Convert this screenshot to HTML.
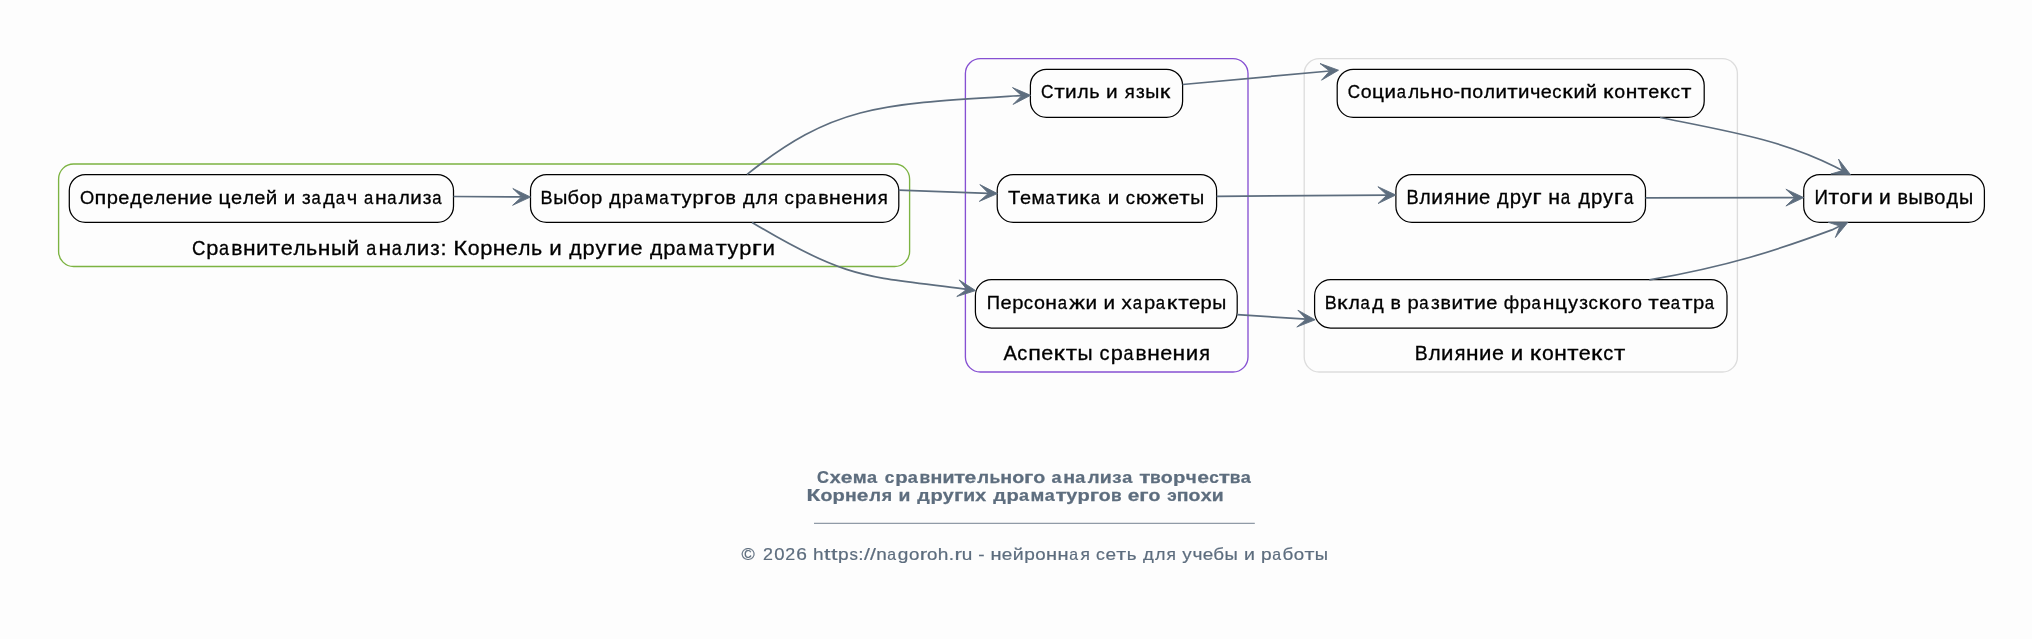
<!DOCTYPE html>
<html><head><meta charset="utf-8"><style>
html,body{margin:0;padding:0;background:#fdfdfd;}
body{width:2032px;height:639px;overflow:hidden;}
svg{display:block;will-change:transform;}
text{font-family:"Liberation Sans",sans-serif;}
</style></head><body>
<svg width="2032" height="639" viewBox="0 0 2032 639">
<rect x="0" y="0" width="2032" height="639" fill="#fdfdfd"/>
<rect x="58.6" y="164.0" width="851.0" height="102.5" rx="15" ry="15" fill="none" stroke="#7cb342" stroke-width="1.35"/>
<rect x="965.4" y="58.6" width="282.6" height="313.4" rx="15" ry="15" fill="none" stroke="#8650d2" stroke-width="1.35"/>
<rect x="1304.2" y="58.6" width="433.2" height="313.4" rx="15" ry="15" fill="none" stroke="#dddddd" stroke-width="1.35"/>
<g font-size="20.66" font-weight="normal" fill="#000" stroke="#000" stroke-width="0.3"><text transform="translate(198.89,254.7) scale(0.901,1)" x="-7.59">С</text><text transform="translate(212.60,254.7) scale(1.056,1)" x="-5.98">р</text><text transform="translate(224.44,254.7) scale(0.873,1)" x="-6.18">а</text><text transform="translate(237.12,254.7) scale(1.020,1)" x="-5.75">в</text><text transform="translate(249.27,254.7) scale(1.108,1)" x="-5.70">н</text><text transform="translate(262.34,254.7) scale(1.083,1)" x="-5.77">и</text><text transform="translate(274.70,254.7) scale(1.200,1)" x="-4.73">т</text><text transform="translate(286.73,254.7) scale(1.049,1)" x="-5.72">е</text><text transform="translate(298.83,254.7) scale(0.990,1)" x="-5.37">л</text><text transform="translate(311.93,254.7) scale(1.039,1)" x="-5.67">ь</text><text transform="translate(324.07,254.7) scale(1.108,1)" x="-5.70">н</text><text transform="translate(338.57,254.7) scale(1.021,1)" x="-7.42">ы</text><text transform="translate(352.98,254.7) scale(1.083,1)" x="-5.77">й</text><text transform="translate(371.71,254.7) scale(0.873,1)" x="-6.18">а</text><text transform="translate(384.72,254.7) scale(1.108,1)" x="-5.70">н</text><text transform="translate(397.11,254.7) scale(0.873,1)" x="-6.18">а</text><text transform="translate(409.51,254.7) scale(0.990,1)" x="-5.37">л</text><text transform="translate(422.90,254.7) scale(1.083,1)" x="-5.77">и</text><text transform="translate(434.81,254.7) scale(0.997,1)" x="-4.59">з</text><text transform="translate(443.46,254.7) scale(1.051,1)" x="-2.87">:</text><text transform="translate(461.12,254.7) scale(1.163,1)" x="-6.80">К</text><text transform="translate(473.59,254.7) scale(1.032,1)" x="-5.74">о</text><text transform="translate(486.45,254.7) scale(1.056,1)" x="-5.98">р</text><text transform="translate(499.00,254.7) scale(1.108,1)" x="-5.70">н</text><text transform="translate(511.75,254.7) scale(1.049,1)" x="-5.72">е</text><text transform="translate(523.85,254.7) scale(0.990,1)" x="-5.37">л</text><text transform="translate(536.95,254.7) scale(1.039,1)" x="-5.67">ь</text><text transform="translate(555.43,254.7) scale(1.083,1)" x="-5.77">и</text><text transform="translate(575.25,254.7) scale(1.024,1)" x="-5.95">д</text><text transform="translate(588.91,254.7) scale(1.056,1)" x="-5.98">р</text><text transform="translate(600.85,254.7) scale(1.043,1)" x="-5.17">у</text><text transform="translate(612.47,254.7) scale(1.350,1)" x="-4.18">г</text><text transform="translate(623.84,254.7) scale(1.083,1)" x="-5.77">и</text><text transform="translate(636.54,254.7) scale(1.049,1)" x="-5.72">е</text><text transform="translate(656.00,254.7) scale(1.024,1)" x="-5.95">д</text><text transform="translate(669.66,254.7) scale(1.056,1)" x="-5.98">р</text><text transform="translate(681.50,254.7) scale(0.873,1)" x="-6.18">а</text><text transform="translate(695.52,254.7) scale(1.012,1)" x="-7.11">м</text><text transform="translate(708.92,254.7) scale(0.873,1)" x="-6.18">а</text><text transform="translate(721.21,254.7) scale(1.200,1)" x="-4.73">т</text><text transform="translate(732.99,254.7) scale(1.043,1)" x="-5.17">у</text><text transform="translate(745.65,254.7) scale(1.056,1)" x="-5.98">р</text><text transform="translate(757.34,254.7) scale(1.350,1)" x="-4.18">г</text><text transform="translate(768.70,254.7) scale(1.083,1)" x="-5.77">и</text></g>
<g font-size="20.58" font-weight="normal" fill="#000" stroke="#000" stroke-width="0.3"><text transform="translate(1010.27,360.0) scale(0.978,1)" x="-6.86">А</text><text transform="translate(1022.54,360.0) scale(0.974,1)" x="-5.31">с</text><text transform="translate(1034.63,360.0) scale(1.138,1)" x="-5.57">п</text><text transform="translate(1047.33,360.0) scale(1.049,1)" x="-5.70">е</text><text transform="translate(1060.06,360.0) scale(1.243,1)" x="-5.25">к</text><text transform="translate(1071.34,360.0) scale(1.200,1)" x="-4.71">т</text><text transform="translate(1085.07,360.0) scale(1.021,1)" x="-7.40">ы</text><text transform="translate(1104.71,360.0) scale(0.974,1)" x="-5.31">с</text><text transform="translate(1116.97,360.0) scale(1.056,1)" x="-5.95">р</text><text transform="translate(1128.77,360.0) scale(0.873,1)" x="-6.16">а</text><text transform="translate(1141.40,360.0) scale(1.020,1)" x="-5.73">в</text><text transform="translate(1153.51,360.0) scale(1.108,1)" x="-5.68">н</text><text transform="translate(1166.20,360.0) scale(1.049,1)" x="-5.70">е</text><text transform="translate(1178.86,360.0) scale(1.108,1)" x="-5.68">н</text><text transform="translate(1191.89,360.0) scale(1.083,1)" x="-5.75">и</text><text transform="translate(1204.10,360.0) scale(0.963,1)" x="-4.94">я</text></g>
<g font-size="20.55" font-weight="normal" fill="#000" stroke="#000" stroke-width="0.3"><text transform="translate(1421.46,359.7) scale(0.943,1)" x="-7.15">В</text><text transform="translate(1433.94,359.7) scale(0.990,1)" x="-5.34">л</text><text transform="translate(1447.26,359.7) scale(1.083,1)" x="-5.74">и</text><text transform="translate(1459.46,359.7) scale(0.963,1)" x="-4.94">я</text><text transform="translate(1472.26,359.7) scale(1.108,1)" x="-5.67">н</text><text transform="translate(1485.26,359.7) scale(1.083,1)" x="-5.74">и</text><text transform="translate(1497.90,359.7) scale(1.049,1)" x="-5.69">е</text><text transform="translate(1516.84,359.7) scale(1.083,1)" x="-5.74">и</text><text transform="translate(1536.26,359.7) scale(1.243,1)" x="-5.24">к</text><text transform="translate(1547.82,359.7) scale(1.032,1)" x="-5.71">о</text><text transform="translate(1560.44,359.7) scale(1.108,1)" x="-5.67">н</text><text transform="translate(1572.77,359.7) scale(1.200,1)" x="-4.71">т</text><text transform="translate(1584.73,359.7) scale(1.049,1)" x="-5.69">е</text><text transform="translate(1597.45,359.7) scale(1.243,1)" x="-5.24">к</text><text transform="translate(1608.31,359.7) scale(0.974,1)" x="-5.30">с</text><text transform="translate(1619.67,359.7) scale(1.200,1)" x="-4.71">т</text></g>
<rect x="69.3" y="174.5" width="384.2" height="47.8" rx="16" ry="16" fill="#fdfdfd" stroke="#000" stroke-width="1.25"/>
<g font-size="19.06" font-weight="normal" fill="#000" stroke="#000" stroke-width="0.3"><text transform="translate(87.04,203.9) scale(0.960,1)" x="-7.41">О</text><text transform="translate(100.38,203.9) scale(1.138,1)" x="-5.16">п</text><text transform="translate(112.63,203.9) scale(1.056,1)" x="-5.51">р</text><text transform="translate(123.88,203.9) scale(1.049,1)" x="-5.28">е</text><text transform="translate(135.95,203.9) scale(1.024,1)" x="-5.49">д</text><text transform="translate(148.06,203.9) scale(1.049,1)" x="-5.28">е</text><text transform="translate(159.22,203.9) scale(0.990,1)" x="-4.95">л</text><text transform="translate(171.27,203.9) scale(1.049,1)" x="-5.28">е</text><text transform="translate(182.99,203.9) scale(1.108,1)" x="-5.26">н</text><text transform="translate(195.06,203.9) scale(1.083,1)" x="-5.32">и</text><text transform="translate(206.78,203.9) scale(1.049,1)" x="-5.28">е</text><text transform="translate(225.05,203.9) scale(1.099,1)" x="-5.90">ц</text><text transform="translate(236.64,203.9) scale(1.049,1)" x="-5.28">е</text><text transform="translate(247.81,203.9) scale(0.990,1)" x="-4.95">л</text><text transform="translate(259.85,203.9) scale(1.049,1)" x="-5.28">е</text><text transform="translate(271.54,203.9) scale(1.083,1)" x="-5.32">й</text><text transform="translate(289.45,203.9) scale(1.083,1)" x="-5.32">и</text><text transform="translate(306.32,203.9) scale(0.997,1)" x="-4.24">з</text><text transform="translate(316.57,203.9) scale(0.873,1)" x="-5.70">а</text><text transform="translate(328.92,203.9) scale(1.024,1)" x="-5.49">д</text><text transform="translate(340.70,203.9) scale(0.873,1)" x="-5.70">а</text><text transform="translate(351.96,203.9) scale(1.058,1)" x="-4.87">ч</text><text transform="translate(368.86,203.9) scale(0.873,1)" x="-5.70">а</text><text transform="translate(380.86,203.9) scale(1.108,1)" x="-5.26">н</text><text transform="translate(392.29,203.9) scale(0.873,1)" x="-5.70">а</text><text transform="translate(403.74,203.9) scale(0.990,1)" x="-4.95">л</text><text transform="translate(416.09,203.9) scale(1.083,1)" x="-5.32">и</text><text transform="translate(427.08,203.9) scale(0.997,1)" x="-4.24">з</text><text transform="translate(437.33,203.9) scale(0.873,1)" x="-5.70">а</text></g>
<rect x="530.5" y="174.5" width="368.3" height="47.8" rx="16" ry="16" fill="#fdfdfd" stroke="#000" stroke-width="1.25"/>
<g font-size="19.24" font-weight="normal" fill="#000" stroke="#000" stroke-width="0.3"><text transform="translate(546.83,203.9) scale(0.943,1)" x="-6.70">В</text><text transform="translate(560.37,203.9) scale(1.021,1)" x="-6.91">ы</text><text transform="translate(573.49,203.9) scale(1.043,1)" x="-5.67">б</text><text transform="translate(584.96,203.9) scale(1.032,1)" x="-5.35">о</text><text transform="translate(596.94,203.9) scale(1.056,1)" x="-5.57">р</text><text transform="translate(614.92,203.9) scale(1.024,1)" x="-5.54">д</text><text transform="translate(627.65,203.9) scale(1.056,1)" x="-5.57">р</text><text transform="translate(638.67,203.9) scale(0.873,1)" x="-5.76">а</text><text transform="translate(651.73,203.9) scale(1.012,1)" x="-6.62">м</text><text transform="translate(664.21,203.9) scale(0.873,1)" x="-5.76">а</text><text transform="translate(675.66,203.9) scale(1.200,1)" x="-4.41">т</text><text transform="translate(686.63,203.9) scale(1.043,1)" x="-4.81">у</text><text transform="translate(698.42,203.9) scale(1.056,1)" x="-5.57">р</text><text transform="translate(709.31,203.9) scale(1.350,1)" x="-3.89">г</text><text transform="translate(719.54,203.9) scale(1.032,1)" x="-5.35">о</text><text transform="translate(731.05,203.9) scale(1.020,1)" x="-5.36">в</text><text transform="translate(748.65,203.9) scale(1.024,1)" x="-5.54">д</text><text transform="translate(760.65,203.9) scale(0.990,1)" x="-5.00">л</text><text transform="translate(772.40,203.9) scale(0.963,1)" x="-4.62">я</text><text transform="translate(789.29,203.9) scale(0.974,1)" x="-4.96">с</text><text transform="translate(800.75,203.9) scale(1.056,1)" x="-5.57">р</text><text transform="translate(811.78,203.9) scale(0.873,1)" x="-5.76">а</text><text transform="translate(823.59,203.9) scale(1.020,1)" x="-5.36">в</text><text transform="translate(834.90,203.9) scale(1.108,1)" x="-5.31">н</text><text transform="translate(846.77,203.9) scale(1.049,1)" x="-5.33">е</text><text transform="translate(858.61,203.9) scale(1.108,1)" x="-5.31">н</text><text transform="translate(870.78,203.9) scale(1.083,1)" x="-5.37">и</text><text transform="translate(882.20,203.9) scale(0.963,1)" x="-4.62">я</text></g>
<rect x="1030.4" y="69.3" width="152.2" height="48.0" rx="16" ry="16" fill="#fdfdfd" stroke="#000" stroke-width="1.25"/>
<g font-size="19.22" font-weight="normal" fill="#000" stroke="#000" stroke-width="0.3"><text transform="translate(1047.48,98.1) scale(0.901,1)" x="-7.06">С</text><text transform="translate(1059.41,98.1) scale(1.200,1)" x="-4.40">т</text><text transform="translate(1070.91,98.1) scale(1.083,1)" x="-5.37">и</text><text transform="translate(1082.51,98.1) scale(0.990,1)" x="-4.99">л</text><text transform="translate(1094.69,98.1) scale(1.039,1)" x="-5.28">ь</text><text transform="translate(1111.88,98.1) scale(1.083,1)" x="-5.37">и</text><text transform="translate(1129.22,98.1) scale(0.963,1)" x="-4.62">я</text><text transform="translate(1140.12,98.1) scale(0.997,1)" x="-4.27">з</text><text transform="translate(1152.40,98.1) scale(1.021,1)" x="-6.91">ы</text><text transform="translate(1165.92,98.1) scale(1.243,1)" x="-4.90">к</text></g>
<rect x="997.2" y="174.5" width="219.4" height="47.8" rx="16" ry="16" fill="#fdfdfd" stroke="#000" stroke-width="1.25"/>
<g font-size="19.04" font-weight="normal" fill="#000" stroke="#000" stroke-width="0.3"><text transform="translate(1014.10,203.9) scale(1.059,1)" x="-5.81">Т</text><text transform="translate(1025.45,203.9) scale(1.049,1)" x="-5.28">е</text><text transform="translate(1038.09,203.9) scale(1.012,1)" x="-6.55">м</text><text transform="translate(1050.44,203.9) scale(0.873,1)" x="-5.70">а</text><text transform="translate(1061.77,203.9) scale(1.200,1)" x="-4.36">т</text><text transform="translate(1073.17,203.9) scale(1.083,1)" x="-5.32">и</text><text transform="translate(1085.29,203.9) scale(1.243,1)" x="-4.85">к</text><text transform="translate(1095.72,203.9) scale(0.873,1)" x="-5.70">а</text><text transform="translate(1113.55,203.9) scale(1.083,1)" x="-5.32">и</text><text transform="translate(1130.45,203.9) scale(0.974,1)" x="-4.91">с</text><text transform="translate(1143.74,203.9) scale(1.053,1)" x="-7.40">ю</text><text transform="translate(1159.48,203.9) scale(1.221,1)" x="-6.37">ж</text><text transform="translate(1173.51,203.9) scale(1.049,1)" x="-5.28">е</text><text transform="translate(1184.56,203.9) scale(1.200,1)" x="-4.36">т</text><text transform="translate(1197.26,203.9) scale(1.021,1)" x="-6.84">ы</text></g>
<rect x="975.4" y="279.7" width="261.8" height="48.3" rx="16" ry="16" fill="#fdfdfd" stroke="#000" stroke-width="1.25"/>
<g font-size="19.12" font-weight="normal" fill="#000" stroke="#000" stroke-width="0.3"><text transform="translate(993.36,308.8) scale(0.966,1)" x="-6.89">П</text><text transform="translate(1006.06,308.8) scale(1.049,1)" x="-5.30">е</text><text transform="translate(1017.98,308.8) scale(1.056,1)" x="-5.53">р</text><text transform="translate(1028.58,308.8) scale(0.974,1)" x="-4.93">с</text><text transform="translate(1039.42,308.8) scale(1.032,1)" x="-5.32">о</text><text transform="translate(1051.17,308.8) scale(1.108,1)" x="-5.28">н</text><text transform="translate(1062.64,308.8) scale(0.873,1)" x="-5.72">а</text><text transform="translate(1076.97,308.8) scale(1.221,1)" x="-6.39">ж</text><text transform="translate(1091.36,308.8) scale(1.083,1)" x="-5.34">и</text><text transform="translate(1109.32,308.8) scale(1.083,1)" x="-5.34">и</text><text transform="translate(1126.71,308.8) scale(1.077,1)" x="-4.78">х</text><text transform="translate(1137.64,308.8) scale(0.873,1)" x="-5.72">а</text><text transform="translate(1149.84,308.8) scale(1.056,1)" x="-5.53">р</text><text transform="translate(1160.80,308.8) scale(0.873,1)" x="-5.72">а</text><text transform="translate(1172.91,308.8) scale(1.243,1)" x="-4.87">к</text><text transform="translate(1183.39,308.8) scale(1.200,1)" x="-4.38">т</text><text transform="translate(1194.52,308.8) scale(1.049,1)" x="-5.30">е</text><text transform="translate(1206.44,308.8) scale(1.056,1)" x="-5.53">р</text><text transform="translate(1219.34,308.8) scale(1.021,1)" x="-6.87">ы</text></g>
<rect x="1337.2" y="69.3" width="367.0" height="48.0" rx="16" ry="16" fill="#fdfdfd" stroke="#000" stroke-width="1.25"/>
<g font-size="18.96" font-weight="normal" fill="#000" stroke="#000" stroke-width="0.3"><text transform="translate(1354.11,98.1) scale(0.901,1)" x="-6.97">С</text><text transform="translate(1366.15,98.1) scale(1.032,1)" x="-5.27">о</text><text transform="translate(1378.46,98.1) scale(1.099,1)" x="-5.87">ц</text><text transform="translate(1390.29,98.1) scale(1.083,1)" x="-5.30">и</text><text transform="translate(1401.63,98.1) scale(0.873,1)" x="-5.67">а</text><text transform="translate(1413.01,98.1) scale(0.990,1)" x="-4.92">л</text><text transform="translate(1425.03,98.1) scale(1.039,1)" x="-5.21">ь</text><text transform="translate(1436.18,98.1) scale(1.108,1)" x="-5.23">н</text><text transform="translate(1447.83,98.1) scale(1.032,1)" x="-5.27">о</text><text transform="translate(1456.78,98.1) scale(1.047,1)" x="-3.16">-</text><text transform="translate(1466.12,98.1) scale(1.138,1)" x="-5.13">п</text><text transform="translate(1477.77,98.1) scale(1.032,1)" x="-5.27">о</text><text transform="translate(1488.86,98.1) scale(0.990,1)" x="-4.92">л</text><text transform="translate(1501.14,98.1) scale(1.083,1)" x="-5.30">и</text><text transform="translate(1512.48,98.1) scale(1.200,1)" x="-4.34">т</text><text transform="translate(1523.83,98.1) scale(1.083,1)" x="-5.30">и</text><text transform="translate(1535.08,98.1) scale(1.058,1)" x="-4.84">ч</text><text transform="translate(1546.36,98.1) scale(1.049,1)" x="-5.25">е</text><text transform="translate(1557.00,98.1) scale(0.974,1)" x="-4.89">с</text><text transform="translate(1568.22,98.1) scale(1.243,1)" x="-4.83">к</text><text transform="translate(1579.23,98.1) scale(1.083,1)" x="-5.30">и</text><text transform="translate(1591.19,98.1) scale(1.083,1)" x="-5.30">й</text><text transform="translate(1609.11,98.1) scale(1.243,1)" x="-4.83">к</text><text transform="translate(1619.77,98.1) scale(1.032,1)" x="-5.27">о</text><text transform="translate(1631.42,98.1) scale(1.108,1)" x="-5.23">н</text><text transform="translate(1642.79,98.1) scale(1.200,1)" x="-4.34">т</text><text transform="translate(1653.84,98.1) scale(1.049,1)" x="-5.25">е</text><text transform="translate(1665.57,98.1) scale(1.243,1)" x="-4.83">к</text><text transform="translate(1675.59,98.1) scale(0.974,1)" x="-4.89">с</text><text transform="translate(1686.08,98.1) scale(1.200,1)" x="-4.34">т</text></g>
<rect x="1395.9" y="174.5" width="249.6" height="47.8" rx="16" ry="16" fill="#fdfdfd" stroke="#000" stroke-width="1.25"/>
<g font-size="19.30" font-weight="normal" fill="#000" stroke="#000" stroke-width="0.3"><text transform="translate(1412.84,203.9) scale(0.943,1)" x="-6.72">В</text><text transform="translate(1424.57,203.9) scale(0.990,1)" x="-5.01">л</text><text transform="translate(1437.07,203.9) scale(1.083,1)" x="-5.39">и</text><text transform="translate(1448.53,203.9) scale(0.963,1)" x="-4.64">я</text><text transform="translate(1460.56,203.9) scale(1.108,1)" x="-5.33">н</text><text transform="translate(1472.77,203.9) scale(1.083,1)" x="-5.39">и</text><text transform="translate(1484.64,203.9) scale(1.049,1)" x="-5.35">е</text><text transform="translate(1502.81,203.9) scale(1.024,1)" x="-5.56">д</text><text transform="translate(1515.57,203.9) scale(1.056,1)" x="-5.58">р</text><text transform="translate(1526.72,203.9) scale(1.043,1)" x="-4.83">у</text><text transform="translate(1537.58,203.9) scale(1.350,1)" x="-3.91">г</text><text transform="translate(1554.19,203.9) scale(1.108,1)" x="-5.33">н</text><text transform="translate(1565.76,203.9) scale(0.873,1)" x="-5.78">а</text><text transform="translate(1584.22,203.9) scale(1.024,1)" x="-5.56">д</text><text transform="translate(1596.98,203.9) scale(1.056,1)" x="-5.58">р</text><text transform="translate(1608.14,203.9) scale(1.043,1)" x="-4.83">у</text><text transform="translate(1618.99,203.9) scale(1.350,1)" x="-3.91">г</text><text transform="translate(1628.97,203.9) scale(0.873,1)" x="-5.78">а</text></g>
<rect x="1314.6" y="279.7" width="412.4" height="48.3" rx="16" ry="16" fill="#fdfdfd" stroke="#000" stroke-width="1.25"/>
<g font-size="19.14" font-weight="normal" fill="#000" stroke="#000" stroke-width="0.3"><text transform="translate(1330.91,308.8) scale(0.943,1)" x="-6.66">В</text><text transform="translate(1343.18,308.8) scale(1.243,1)" x="-4.88">к</text><text transform="translate(1353.77,308.8) scale(0.990,1)" x="-4.97">л</text><text transform="translate(1365.54,308.8) scale(0.873,1)" x="-5.73">а</text><text transform="translate(1377.95,308.8) scale(1.024,1)" x="-5.52">д</text><text transform="translate(1396.05,308.8) scale(1.020,1)" x="-5.33">в</text><text transform="translate(1413.38,308.8) scale(1.056,1)" x="-5.54">р</text><text transform="translate(1424.35,308.8) scale(0.873,1)" x="-5.73">а</text><text transform="translate(1435.33,308.8) scale(0.997,1)" x="-4.26">з</text><text transform="translate(1445.99,308.8) scale(1.020,1)" x="-5.33">в</text><text transform="translate(1457.21,308.8) scale(1.083,1)" x="-5.35">и</text><text transform="translate(1468.66,308.8) scale(1.200,1)" x="-4.38">т</text><text transform="translate(1480.11,308.8) scale(1.083,1)" x="-5.35">и</text><text transform="translate(1491.89,308.8) scale(1.049,1)" x="-5.30">е</text><text transform="translate(1511.44,308.8) scale(0.981,1)" x="-7.87">ф</text><text transform="translate(1525.62,308.8) scale(1.056,1)" x="-5.54">р</text><text transform="translate(1536.59,308.8) scale(0.873,1)" x="-5.73">а</text><text transform="translate(1548.65,308.8) scale(1.108,1)" x="-5.29">н</text><text transform="translate(1561.47,308.8) scale(1.099,1)" x="-5.93">ц</text><text transform="translate(1572.88,308.8) scale(1.043,1)" x="-4.79">у</text><text transform="translate(1583.37,308.8) scale(0.997,1)" x="-4.26">з</text><text transform="translate(1593.31,308.8) scale(0.974,1)" x="-4.94">с</text><text transform="translate(1604.63,308.8) scale(1.243,1)" x="-4.88">к</text><text transform="translate(1615.40,308.8) scale(1.032,1)" x="-5.32">о</text><text transform="translate(1626.35,308.8) scale(1.350,1)" x="-3.87">г</text><text transform="translate(1636.53,308.8) scale(1.032,1)" x="-5.32">о</text><text transform="translate(1653.54,308.8) scale(1.200,1)" x="-4.38">т</text><text transform="translate(1664.68,308.8) scale(1.049,1)" x="-5.30">е</text><text transform="translate(1675.79,308.8) scale(0.873,1)" x="-5.73">а</text><text transform="translate(1687.19,308.8) scale(1.200,1)" x="-4.38">т</text><text transform="translate(1698.84,308.8) scale(1.056,1)" x="-5.54">р</text><text transform="translate(1709.81,308.8) scale(0.873,1)" x="-5.73">а</text></g>
<rect x="1803.7" y="174.5" width="180.7" height="47.8" rx="16" ry="16" fill="#fdfdfd" stroke="#000" stroke-width="1.25"/>
<g font-size="19.40" font-weight="normal" fill="#000" stroke="#000" stroke-width="0.3"><text transform="translate(1821.20,203.9) scale(0.966,1)" x="-6.97">И</text><text transform="translate(1833.73,203.9) scale(1.200,1)" x="-4.44">т</text><text transform="translate(1844.98,203.9) scale(1.032,1)" x="-5.39">о</text><text transform="translate(1856.08,203.9) scale(1.350,1)" x="-3.93">г</text><text transform="translate(1866.75,203.9) scale(1.083,1)" x="-5.42">и</text><text transform="translate(1884.98,203.9) scale(1.083,1)" x="-5.42">и</text><text transform="translate(1902.94,203.9) scale(1.020,1)" x="-5.40">в</text><text transform="translate(1915.64,203.9) scale(1.021,1)" x="-6.97">ы</text><text transform="translate(1928.91,203.9) scale(1.020,1)" x="-5.40">в</text><text transform="translate(1939.92,203.9) scale(1.032,1)" x="-5.39">о</text><text transform="translate(1952.19,203.9) scale(1.024,1)" x="-5.59">д</text><text transform="translate(1966.16,203.9) scale(1.021,1)" x="-6.97">ы</text></g>
<path d="M453.5,196.5 L521.6,196.9" stroke="#5d6d7e" stroke-width="1.7" fill="none"/>
<polygon points="530.5,197.0 512.6,205.3 521.6,196.9 512.8,188.5" fill="#5d6d7e" stroke="#5d6d7e" stroke-width="0.9" stroke-linejoin="miter"/>
<path d="M898.8,190.2 L988.5,193.3" stroke="#5d6d7e" stroke-width="1.7" fill="none"/>
<polygon points="997.4,193.6 979.3,201.4 988.5,193.3 979.9,184.6" fill="#5d6d7e" stroke="#5d6d7e" stroke-width="0.9" stroke-linejoin="miter"/>
<path d="M1216.6,196.3 L1386.9,195.1" stroke="#5d6d7e" stroke-width="1.7" fill="none"/>
<polygon points="1395.8,195.0 1378.1,203.5 1386.9,195.1 1377.9,186.7" fill="#5d6d7e" stroke="#5d6d7e" stroke-width="0.9" stroke-linejoin="miter"/>
<path d="M1645.5,197.8 L1794.8,197.6" stroke="#5d6d7e" stroke-width="1.7" fill="none"/>
<polygon points="1803.7,197.6 1785.9,206.0 1794.8,197.6 1785.9,189.2" fill="#5d6d7e" stroke="#5d6d7e" stroke-width="0.9" stroke-linejoin="miter"/>
<path d="M1182.6,84.5 L1329.6,71.0" stroke="#5d6d7e" stroke-width="1.7" fill="none"/>
<polygon points="1338.5,70.2 1321.5,80.2 1329.6,71.0 1320.0,63.5" fill="#5d6d7e" stroke="#5d6d7e" stroke-width="0.9" stroke-linejoin="miter"/>
<path d="M1237.2,314.6 L1306.2,319.2" stroke="#5d6d7e" stroke-width="1.7" fill="none"/>
<polygon points="1315.1,319.8 1296.8,327.0 1306.2,319.2 1297.9,310.2" fill="#5d6d7e" stroke="#5d6d7e" stroke-width="0.9" stroke-linejoin="miter"/>
<path d="M747.1,174.3 C833.0,106.0 878.0,104.1 1013.0,96.0 L1021.8,95.7" stroke="#5d6d7e" stroke-width="1.7" fill="none"/>
<polygon points="1030.6,95.3 1013.1,104.4 1021.7,95.7 1012.5,87.6" fill="#5d6d7e" stroke="#5d6d7e" stroke-width="0.9" stroke-linejoin="miter"/>
<path d="M752.1,222.4 C848.3,280.7 868.6,276.2 958.1,288.2 L966.9,289.4" stroke="#5d6d7e" stroke-width="1.7" fill="none"/>
<polygon points="975.6,290.6 956.8,296.5 966.8,289.4 959.1,279.9" fill="#5d6d7e" stroke="#5d6d7e" stroke-width="0.9" stroke-linejoin="miter"/>
<path d="M1660.0,117.5 C1731.0,131.8 1782.3,140.1 1835.1,166.8 L1842.8,170.8" stroke="#5d6d7e" stroke-width="1.7" fill="none"/>
<polygon points="1850.5,174.7 1830.8,174.0 1842.6,170.6 1838.5,159.1" fill="#5d6d7e" stroke="#5d6d7e" stroke-width="0.9" stroke-linejoin="miter"/>
<path d="M1649.4,279.9 C1729.1,266.0 1777.7,250.0 1831.9,229.9 L1839.9,226.1" stroke="#5d6d7e" stroke-width="1.7" fill="none"/>
<polygon points="1847.9,222.3 1835.4,237.5 1839.9,226.1 1828.2,222.3" fill="#5d6d7e" stroke="#5d6d7e" stroke-width="0.9" stroke-linejoin="miter"/>
<g font-size="16.72" font-weight="bold" fill="#5d6d7e" stroke="#5d6d7e" stroke-width="0.25"><text transform="translate(823.10,482.8) scale(0.988,1)" x="-6.15">С</text><text transform="translate(835.23,482.8) scale(1.181,1)" x="-4.65">х</text><text transform="translate(846.71,482.8) scale(1.266,1)" x="-4.69">е</text><text transform="translate(859.77,482.8) scale(1.126,1)" x="-6.18">м</text><text transform="translate(872.46,482.8) scale(1.081,1)" x="-4.95">а</text><text transform="translate(889.67,482.8) scale(1.031,1)" x="-4.73">с</text><text transform="translate(901.61,482.8) scale(1.213,1)" x="-5.31">р</text><text transform="translate(913.07,482.8) scale(1.081,1)" x="-4.95">а</text><text transform="translate(925.12,482.8) scale(1.040,1)" x="-5.40">в</text><text transform="translate(936.30,482.8) scale(1.173,1)" x="-5.05">н</text><text transform="translate(948.42,482.8) scale(1.166,1)" x="-5.14">и</text><text transform="translate(959.56,482.8) scale(1.372,1)" x="-4.10">т</text><text transform="translate(970.47,482.8) scale(1.266,1)" x="-4.69">е</text><text transform="translate(982.55,482.8) scale(1.113,1)" x="-4.81">л</text><text transform="translate(995.04,482.8) scale(1.044,1)" x="-5.38">ь</text><text transform="translate(1006.21,482.8) scale(1.173,1)" x="-5.05">н</text><text transform="translate(1018.21,482.8) scale(1.175,1)" x="-5.11">о</text><text transform="translate(1029.27,482.8) scale(1.350,1)" x="-3.84">г</text><text transform="translate(1039.28,482.8) scale(1.175,1)" x="-5.11">о</text><text transform="translate(1056.89,482.8) scale(1.081,1)" x="-4.95">а</text><text transform="translate(1069.09,482.8) scale(1.173,1)" x="-5.05">н</text><text transform="translate(1080.67,482.8) scale(1.081,1)" x="-4.95">а</text><text transform="translate(1092.99,482.8) scale(1.113,1)" x="-4.81">л</text><text transform="translate(1105.72,482.8) scale(1.166,1)" x="-5.14">и</text><text transform="translate(1116.75,482.8) scale(1.116,1)" x="-4.09">з</text><text transform="translate(1127.51,482.8) scale(1.081,1)" x="-4.95">а</text><text transform="translate(1144.80,482.8) scale(1.372,1)" x="-4.10">т</text><text transform="translate(1155.71,482.8) scale(1.040,1)" x="-5.40">в</text><text transform="translate(1166.86,482.8) scale(1.175,1)" x="-5.11">о</text><text transform="translate(1179.41,482.8) scale(1.213,1)" x="-5.31">р</text><text transform="translate(1190.86,482.8) scale(1.126,1)" x="-4.61">ч</text><text transform="translate(1203.12,482.8) scale(1.266,1)" x="-4.69">е</text><text transform="translate(1214.03,482.8) scale(1.031,1)" x="-4.73">с</text><text transform="translate(1224.44,482.8) scale(1.372,1)" x="-4.10">т</text><text transform="translate(1235.35,482.8) scale(1.040,1)" x="-5.40">в</text><text transform="translate(1246.08,482.8) scale(1.081,1)" x="-4.95">а</text></g>
<g font-size="16.60" font-weight="bold" fill="#5d6d7e" stroke="#5d6d7e" stroke-width="0.25"><text transform="translate(814.15,500.7) scale(1.359,1)" x="-5.63">К</text><text transform="translate(826.49,500.7) scale(1.175,1)" x="-5.07">о</text><text transform="translate(838.96,500.7) scale(1.213,1)" x="-5.28">р</text><text transform="translate(850.78,500.7) scale(1.173,1)" x="-5.01">н</text><text transform="translate(862.57,500.7) scale(1.266,1)" x="-4.66">е</text><text transform="translate(874.57,500.7) scale(1.113,1)" x="-4.78">л</text><text transform="translate(886.26,500.7) scale(1.071,1)" x="-4.26">я</text><text transform="translate(904.33,500.7) scale(1.166,1)" x="-5.10">и</text><text transform="translate(923.40,500.7) scale(1.189,1)" x="-5.17">д</text><text transform="translate(936.91,500.7) scale(1.213,1)" x="-5.28">р</text><text transform="translate(948.34,500.7) scale(1.192,1)" x="-4.64">у</text><text transform="translate(959.07,500.7) scale(1.350,1)" x="-3.81">г</text><text transform="translate(969.13,500.7) scale(1.166,1)" x="-5.10">и</text><text transform="translate(980.76,500.7) scale(1.181,1)" x="-4.61">х</text><text transform="translate(999.34,500.7) scale(1.189,1)" x="-5.17">д</text><text transform="translate(1012.85,500.7) scale(1.213,1)" x="-5.28">р</text><text transform="translate(1024.23,500.7) scale(1.081,1)" x="-4.91">а</text><text transform="translate(1037.44,500.7) scale(1.126,1)" x="-6.14">м</text><text transform="translate(1050.04,500.7) scale(1.081,1)" x="-4.91">а</text><text transform="translate(1061.19,500.7) scale(1.372,1)" x="-4.07">т</text><text transform="translate(1071.79,500.7) scale(1.192,1)" x="-4.64">у</text><text transform="translate(1084.00,500.7) scale(1.213,1)" x="-5.28">р</text><text transform="translate(1094.89,500.7) scale(1.350,1)" x="-3.81">г</text><text transform="translate(1104.83,500.7) scale(1.175,1)" x="-5.07">о</text><text transform="translate(1116.59,500.7) scale(1.040,1)" x="-5.36">в</text><text transform="translate(1133.55,500.7) scale(1.266,1)" x="-4.66">е</text><text transform="translate(1144.50,500.7) scale(1.350,1)" x="-3.81">г</text><text transform="translate(1154.44,500.7) scale(1.175,1)" x="-5.07">о</text><text transform="translate(1171.73,500.7) scale(1.031,1)" x="-4.47">э</text><text transform="translate(1182.63,500.7) scale(1.173,1)" x="-5.01">п</text><text transform="translate(1194.54,500.7) scale(1.175,1)" x="-5.07">о</text><text transform="translate(1206.06,500.7) scale(1.181,1)" x="-4.61">х</text><text transform="translate(1217.69,500.7) scale(1.166,1)" x="-5.10">и</text></g>
<rect x="814" y="522.8" width="440.8" height="1.0" fill="#5d6d7e" fill-opacity="0.85"/>
<g font-size="16.52" font-weight="normal" fill="#5d6d7e" stroke="#5d6d7e" stroke-width="0.2"><text transform="translate(748.16,559.8) scale(1.090,1)" x="-6.08">©</text><text transform="translate(767.88,559.8) scale(1.081,1)" x="-4.59">2</text><text transform="translate(779.29,559.8) scale(1.121,1)" x="-4.59">0</text><text transform="translate(790.24,559.8) scale(1.081,1)" x="-4.59">2</text><text transform="translate(801.71,559.8) scale(1.161,1)" x="-4.65">6</text><text transform="translate(818.45,559.8) scale(1.155,1)" x="-4.63">h</text><text transform="translate(827.43,559.8) scale(1.422,1)" x="-2.36">t</text><text transform="translate(834.32,559.8) scale(1.422,1)" x="-2.36">t</text><text transform="translate(843.63,559.8) scale(1.157,1)" x="-4.78">p</text><text transform="translate(853.52,559.8) scale(1.020,1)" x="-4.06">s</text><text transform="translate(861.01,559.8) scale(1.151,1)" x="-2.29">:</text><text transform="translate(866.93,559.8) scale(1.290,1)" x="-2.29">/</text><text transform="translate(872.85,559.8) scale(1.290,1)" x="-2.29">/</text><text transform="translate(881.42,559.8) scale(1.147,1)" x="-4.60">n</text><text transform="translate(892.05,559.8) scale(0.957,1)" x="-4.94">a</text><text transform="translate(902.97,559.8) scale(1.156,1)" x="-4.41">g</text><text transform="translate(914.24,559.8) scale(1.131,1)" x="-4.59">o</text><text transform="translate(924.02,559.8) scale(1.363,1)" x="-3.16">r</text><text transform="translate(932.21,559.8) scale(1.131,1)" x="-4.59">o</text><text transform="translate(943.20,559.8) scale(1.155,1)" x="-4.63">h</text><text transform="translate(951.50,559.8) scale(1.151,1)" x="-2.29">.</text><text transform="translate(958.71,559.8) scale(1.363,1)" x="-3.16">r</text><text transform="translate(967.04,559.8) scale(1.147,1)" x="-4.58">u</text><text transform="translate(981.42,559.8) scale(1.147,1)" x="-2.75">-</text><text transform="translate(995.92,559.8) scale(1.215,1)" x="-4.56">н</text><text transform="translate(1007.08,559.8) scale(1.149,1)" x="-4.58">е</text><text transform="translate(1018.18,559.8) scale(1.186,1)" x="-4.61">й</text><text transform="translate(1029.78,559.8) scale(1.157,1)" x="-4.78">р</text><text transform="translate(1040.42,559.8) scale(1.131,1)" x="-4.59">о</text><text transform="translate(1051.54,559.8) scale(1.215,1)" x="-4.56">н</text><text transform="translate(1063.02,559.8) scale(1.215,1)" x="-4.56">н</text><text transform="translate(1073.88,559.8) scale(0.957,1)" x="-4.94">а</text><text transform="translate(1084.57,559.8) scale(1.055,1)" x="-3.97">я</text><text transform="translate(1100.46,559.8) scale(1.067,1)" x="-4.26">с</text><text transform="translate(1110.77,559.8) scale(1.149,1)" x="-4.58">е</text><text transform="translate(1121.27,559.8) scale(1.315,1)" x="-3.78">т</text><text transform="translate(1131.85,559.8) scale(1.138,1)" x="-4.54">ь</text><text transform="translate(1148.41,559.8) scale(1.122,1)" x="-4.76">д</text><text transform="translate(1159.69,559.8) scale(1.085,1)" x="-4.29">л</text><text transform="translate(1170.75,559.8) scale(1.055,1)" x="-3.97">я</text><text transform="translate(1187.06,559.8) scale(1.142,1)" x="-4.13">у</text><text transform="translate(1197.30,559.8) scale(1.159,1)" x="-4.22">ч</text><text transform="translate(1208.07,559.8) scale(1.149,1)" x="-4.58">е</text><text transform="translate(1218.87,559.8) scale(1.143,1)" x="-4.87">б</text><text transform="translate(1231.24,559.8) scale(1.118,1)" x="-5.94">ы</text><text transform="translate(1249.46,559.8) scale(1.186,1)" x="-4.61">и</text><text transform="translate(1266.64,559.8) scale(1.157,1)" x="-4.78">р</text><text transform="translate(1277.02,559.8) scale(0.957,1)" x="-4.94">а</text><text transform="translate(1288.09,559.8) scale(1.143,1)" x="-4.87">б</text><text transform="translate(1298.88,559.8) scale(1.131,1)" x="-4.59">о</text><text transform="translate(1309.37,559.8) scale(1.315,1)" x="-3.78">т</text><text transform="translate(1321.44,559.8) scale(1.118,1)" x="-5.94">ы</text></g>
</svg></body></html>
